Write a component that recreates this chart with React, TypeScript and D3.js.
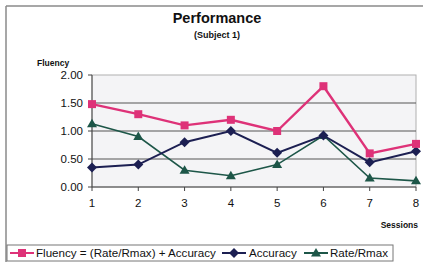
import React from "react";
import * as d3 from "d3";

const sessions = [1, 2, 3, 4, 5, 6, 7, 8];
const fluency = [1.48, 1.3, 1.1, 1.2, 1.0, 1.8, 0.6, 0.77];
const accuracy = [0.35, 0.4, 0.8, 1.0, 0.61, 0.92, 0.44, 0.64];
const rate = [1.13, 0.9, 0.3, 0.2, 0.4, 0.92, 0.16, 0.11];
const yTicks = [0, 0.5, 1.0, 1.5, 2.0];

const C_FL = "#de3278";
const C_AC = "#1c1f52";
const C_RT = "#1d5648";

export default function App() {
  const W = 423, H = 268;
  const x = d3.scaleLinear().domain([1, 8]).range([92, 416]);
  const y = d3.scaleLinear().domain([0, 2]).range([187, 75]);
  const line = d3.line<number>().x((_, i) => x(sessions[i])).y((d) => y(d));
  const font = "Arial, 'Liberation Sans', sans-serif";

  const square = (cx: number, cy: number, c: string, k: string) => (
    <rect key={k} x={cx - 4} y={cy - 4} width={8} height={8} fill={c} />
  );
  const diamond = (cx: number, cy: number, c: string, k: string) => (
    <path key={k} d={`M${cx},${cy - 5}L${cx + 5},${cy}L${cx},${cy + 5}L${cx - 5},${cy}Z`} fill={c} />
  );
  const tri = (cx: number, cy: number, c: string, k: string) => (
    <path key={k} d={`M${cx},${cy - 5}L${cx + 5},${cy + 3.5}L${cx - 5},${cy + 3.5}Z`} fill={c} />
  );

  const series = [
    { data: rate, color: C_RT, mark: tri, w: 1.6 },
    { data: accuracy, color: C_AC, mark: diamond, w: 2 },
    { data: fluency, color: C_FL, mark: square, w: 2.4 },
  ];

  return (
    <svg width={W} height={H} style={{ position: "absolute", left: 0, top: 0 }} fontFamily={font}>
      <rect x={0} y={0} width={W} height={H} fill="#ffffff" />
      {/* outer frame */}
      <line x1={6} y1={6} x2={W} y2={6} stroke="#8a8a8a" strokeWidth={1.5} />
      <line x1={6} y1={6} x2={6} y2={262} stroke="#8a8a8a" strokeWidth={1.5} />
      <text x={217} y={23} textAnchor="middle" fontSize={14.5} fontWeight="bold" fill="#111">Performance</text>
      <text x={217} y={38} textAnchor="middle" fontSize={9} fontWeight="bold" fill="#111">(Subject 1)</text>
      <text x={37} y={66} fontSize={8.5} fontWeight="bold" fill="#111">Fluency</text>
      {/* plot area */}
      <rect x={92} y={75} width={324} height={112} fill="#f4f4f6" stroke="#b0b0b0" strokeWidth={1} />
      {yTicks.filter((t) => t > 0 && t < 2).map((t) => (
        <line key={t} x1={92} x2={416} y1={y(t)} y2={y(t)} stroke="#555" strokeWidth={1} />
      ))}
      <line x1={92} x2={92} y1={75} y2={187} stroke="#444" />
      <line x1={92} x2={416} y1={187} y2={187} stroke="#444" />
      {yTicks.map((t) => (
        <g key={t}>
          <line x1={88} x2={92} y1={y(t)} y2={y(t)} stroke="#444" />
          <text x={83} y={y(t) + 4} textAnchor="end" fontSize={11.5} fill="#111">{t.toFixed(2)}</text>
        </g>
      ))}
      {sessions.map((s) => (
        <g key={s}>
          <line x1={x(s)} x2={x(s)} y1={187} y2={191} stroke="#444" />
          <text x={x(s)} y={207} textAnchor="middle" fontSize={11.5} fill="#111">{s}</text>
        </g>
      ))}
      <text x={418} y={228} textAnchor="end" fontSize={8.5} fontWeight="bold" fill="#111">Sessions</text>
      {series.map((s, si) => (
        <g key={si}>
          <path d={line(s.data) || ""} fill="none" stroke={s.color} strokeWidth={s.w} />
          {s.data.map((v, i) => s.mark(x(sessions[i]), y(v), s.color, `${si}-${i}`))}
        </g>
      ))}
      {/* legend */}
      <rect x={7} y={245} width={386} height={16} fill="#fff" stroke="#777" strokeWidth={1} />
      <g fontSize={11.6} fill="#111">
        <line x1={10} x2={34} y1={253} y2={253} stroke={C_FL} strokeWidth={2} />
        {square(22, 253, C_FL, "lf")}
        <text x={36} y={257}>Fluency = (Rate/Rmax) + Accuracy</text>
        <line x1={222} x2={246} y1={253} y2={253} stroke={C_AC} strokeWidth={2} />
        {diamond(234, 253, C_AC, "la")}
        <text x={249} y={257}>Accuracy</text>
        <line x1={304} x2={328} y1={253} y2={253} stroke={C_RT} strokeWidth={2} />
        {tri(316, 253, C_RT, "lr")}
        <text x={330} y={257}>Rate/Rmax</text>
      </g>
    </svg>
  );
}
